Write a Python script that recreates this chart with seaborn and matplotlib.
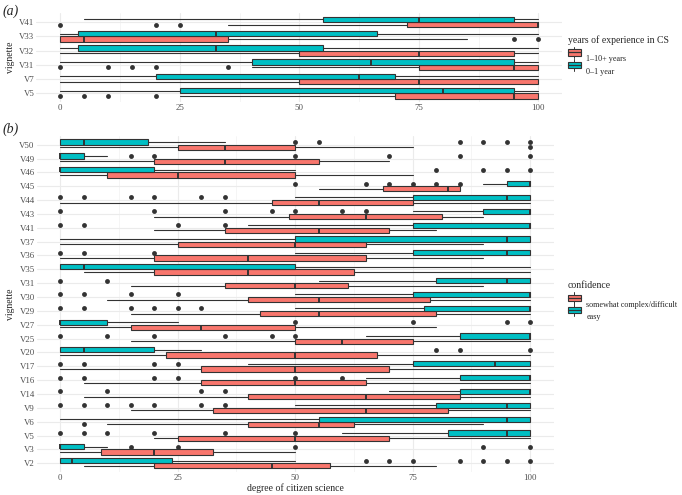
import numpy as np
import seaborn as sns
import matplotlib.pyplot as plt
from matplotlib.patches import Rectangle
from matplotlib.lines import Line2D
from matplotlib.legend_handler import HandlerBase

# box summaries: (whisker low, q1, median, q3, whisker high)
a_vignettes = ["V41", "V33", "V32", "V31", "V7", "V5"]
a_senior = [(35, 72.5, 100, 100, 100), (0, 0, 5, 35, 85), (0, 50, 75, 95, 100),
            (40, 75, 95, 100, 100), (0, 50, 75, 100, 100), (25, 70, 95, 100, 100)]
a_senior_out = [[0, 20, 25], [95, 100], [], [0, 10, 15, 20, 35], [], [0, 5, 10, 20]]
a_junior = [(5, 55, 75, 95, 100), (0, 3.75, 32.5, 66.25, 100), (0, 3.75, 32.5, 55, 100),
            (0, 40, 65, 95, 100), (0, 20, 62.5, 70, 100), (0, 25, 80, 95, 100)]
a_junior_out = [[], [], [], [], [], []]
a_labels = ["1\u201310+ years", "0\u20131 year"]

b_vignettes = ["V50", "V49", "V46", "V45", "V44", "V43", "V41", "V37", "V36", "V35", "V31", "V30",
               "V29", "V27", "V25", "V20", "V17", "V16", "V14", "V9", "V6", "V5", "V3", "V2"]
b_hard = [(0, 25, 35, 50, 75), (0, 20, 35, 55, 70), (0, 10, 25, 50, 75), (55, 68.75, 82.5, 85, 85),
          (0, 45, 55, 75, 100), (20, 48.75, 65, 81.25, 90), (20, 35, 55, 70, 80), (0, 25, 50, 65, 90),
          (0, 20, 40, 65, 90), (5, 20, 40, 62.5, 100), (15, 35, 50, 61.25, 90), (10, 40, 55, 78.75, 100),
          (15, 42.5, 55, 80, 100), (0, 15, 30, 50, 80), (15, 50, 60, 75, 100), (0, 22.5, 50, 67.5, 100),
          (0, 30, 50, 70, 100), (5, 30, 50, 65, 100), (5, 40, 65, 85, 100), (15, 32.5, 65, 82.5, 100),
          (10, 40, 55, 62.5, 90), (20, 25, 50, 70, 100), (0, 8.75, 20, 32.5, 50), (5, 20, 45, 57.5, 80)]
b_hard_out = [[100], [], [], [], [], [], [], [], [], [], [], [],
              [], [], [], [], [], [], [], [], [5], [], [], []]
b_easy = [(0, 0, 5, 18.75, 35), (0, 0, 0, 5, 10), (0, 0, 0, 20, 50), (90, 95, 100, 100, 100),
          (50, 75, 95, 100, 100), (75, 90, 100, 100, 100), (40, 75, 100, 100, 100), (0, 50, 95, 100, 100),
          (50, 75, 95, 100, 100), (0, 0, 5, 50, 100), (55, 80, 95, 100, 100), (50, 75, 100, 100, 100),
          (50, 77.5, 100, 100, 100), (0, 0, 0, 10, 25), (65, 85, 100, 100, 100), (0, 0, 5, 20, 30),
          (40, 75, 92.5, 100, 100), (65, 85, 100, 100, 100), (70, 85, 100, 100, 100), (50, 80, 95, 100, 100),
          (0, 55, 95, 100, 100), (60, 82.5, 95, 100, 100), (0, 0, 0, 5, 10), (0, 0, 2.5, 23.75, 50)]
b_easy_out = [[50, 55, 85, 90, 95, 100], [15, 20, 50, 70, 85, 100], [80, 90, 95, 100],
              [50, 65, 70, 75, 80, 85], [0, 5, 15, 20, 30, 35], [0, 20, 35, 45, 50, 60, 65],
              [0, 5, 25, 35], [], [0, 5, 20], [], [0, 10], [0, 5, 15, 25],
              [0, 5, 15, 20, 25, 30], [50, 75, 95, 100], [0, 10, 20, 35, 45, 50], [80, 85, 100],
              [0, 5, 20, 25], [0, 5, 20, 25, 50, 60], [0, 10, 30, 35], [0, 5, 10, 15, 20, 30, 35],
              [], [0, 5, 10, 20, 35, 50], [15, 25, 50, 90, 100], [65, 70, 75, 85, 90, 95, 100]]
b_labels = ["somewhat complex/difficult", "easy"]

sns.set_theme(style="whitegrid")
plt.rcParams["font.family"] = ["Liberation Serif", "DejaVu Serif"]
red, teal = sns.color_palette(["#F8766D", "#00BFC4"])
EDGE = "#333333"


class BoxKey(HandlerBase):
    def create_artists(self, legend, orig, xd, yd, w, h, fontsize, trans):
        fc = orig.get_facecolor()
        box = Rectangle((xd, yd + h * 0.22), w, h * 0.56, facecolor=fc, edgecolor=EDGE,
                        lw=0.8, transform=trans)
        med = Line2D([xd, xd + w], [yd + h / 2] * 2, color=EDGE, lw=0.9, transform=trans)
        up = Line2D([xd + w / 2] * 2, [yd + h * 0.78, yd + h * 1.0], color=EDGE, lw=0.7, transform=trans)
        dn = Line2D([xd + w / 2] * 2, [yd, yd + h * 0.22], color=EDGE, lw=0.7, transform=trans)
        return [up, dn, box, med]


def summaries(rows, outs):
    return [dict(whislo=r[0], q1=r[1], med=r[2], q3=r[3], whishi=r[4], fliers=o)
            for r, o in zip(rows, outs)]


def panel(ax, names, groups):
    pos = np.arange(len(names))
    for rows, outs, color, off in groups:
        ax.bxp(summaries(rows, outs), positions=pos + off, widths=0.375,
               orientation="horizontal", patch_artist=True, showcaps=False,
               boxprops=dict(facecolor=color, edgecolor=EDGE, linewidth=0.8),
               whiskerprops=dict(color=EDGE, linewidth=0.8),
               medianprops=dict(color=EDGE, linewidth=1.4),
               flierprops=dict(marker="o", markerfacecolor=EDGE, markeredgecolor="none",
                               markersize=3.5))
    ax.set_yticks(pos, names)
    ax.set_ylim(len(names) - 0.4, -0.6)
    ax.set_xlim(-5, 105)
    ax.set_xticks([0, 25, 50, 75, 100], ["0", "25", "50", "75", "100"])
    ax.set_xticks([12.5, 37.5, 62.5, 87.5], minor=True)
    ax.set_axisbelow(True)
    ax.grid(True, which="major", color="#EBEBEB", linewidth=0.8)
    ax.grid(True, which="minor", axis="x", color="#F2F2F2", linewidth=0.5)
    for s in ax.spines.values():
        s.set_visible(False)
    ax.tick_params(axis="both", which="both", length=0, labelsize=6.3, labelcolor="#4D4D4D", pad=1.5)
    ax.set_ylabel("vignette", fontsize=7, labelpad=3)


fig = plt.figure(figsize=(6.82, 4.95), dpi=100)
ax_a = fig.add_axes([0.0534, 0.7941, 0.771, 0.1788])
ax_b = fig.add_axes([0.054, 0.0473, 0.7576, 0.6772])

panel(ax_a, a_vignettes, [(a_senior, a_senior_out, red, 0.1875), (a_junior, a_junior_out, teal, -0.1875)])
panel(ax_b, b_vignettes, [(b_hard, b_hard_out, red, 0.1875), (b_easy, b_easy_out, teal, -0.1875)])
ax_a.set_xlabel("")
ax_b.set_xlabel("degree of citizen science", fontsize=7, labelpad=1)

fig.text(0.004, 0.99, "(a)", fontsize=10, style="italic", va="top", ha="left")
fig.text(0.004, 0.752, "(b)", fontsize=10, style="italic", va="top", ha="left")

for labels, title, anchor in [(a_labels, "years of experience in CS", (0.831, 0.931)),
                              (b_labels, "confidence", (0.831, 0.434))]:
    handles = [Rectangle((0, 0), 1, 1, facecolor=red), Rectangle((0, 0), 1, 1, facecolor=teal)]
    leg = fig.legend(handles, labels, title=title, loc="upper left", bbox_to_anchor=anchor,
                     frameon=False, fontsize=5.9, title_fontsize=7, alignment="left",
                     handler_map={Rectangle: BoxKey()}, handlelength=1.6, handleheight=1.8,
                     labelspacing=0.1, handletextpad=0.7, borderaxespad=0, borderpad=0.1)
    leg._legend_box.sep = 6

fig.savefig("out.png", dpi=100)
